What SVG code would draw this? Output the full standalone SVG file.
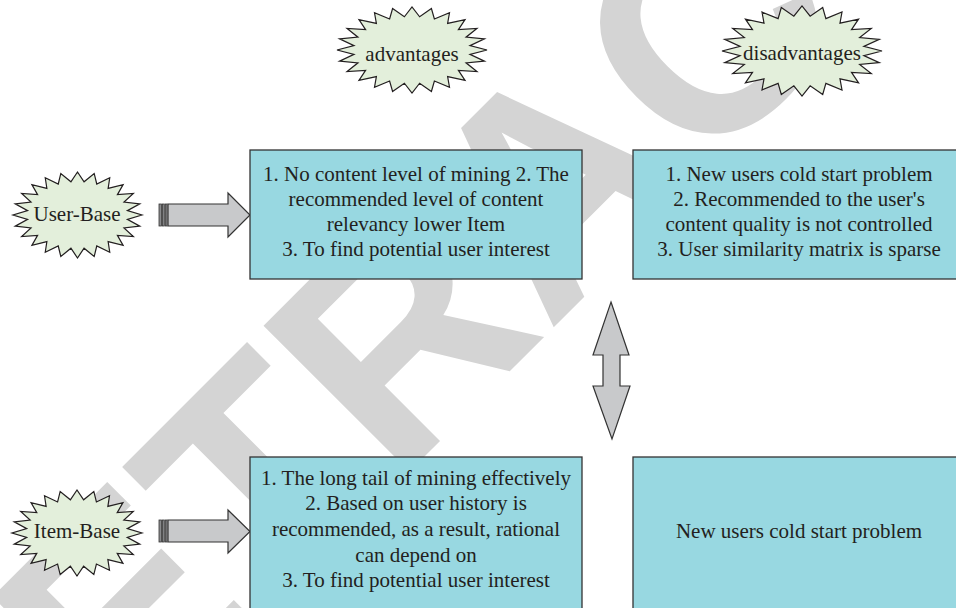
<svg xmlns="http://www.w3.org/2000/svg" xmlns:xlink="http://www.w3.org/1999/xlink" width="956" height="608" viewBox="0 0 956 608">
<style>
.star{fill:#e3efdb;stroke:#231f20;stroke-width:1.2;stroke-linejoin:miter}
.box{fill:#98d8e1;stroke:#333;stroke-width:1.3}
.lbl{font-family:"Liberation Serif","Times New Roman",serif;font-size:21px;fill:#231f20;text-anchor:middle}
.arr{fill:#c8c9cb;stroke:#333;stroke-width:1.2;stroke-linejoin:miter}
.stripe{fill:#8a8b8d;stroke:#333;stroke-width:0.8}
.wm{font-family:"Liberation Sans",Arial,sans-serif;font-weight:bold;font-size:300px;fill:#d4d4d4}
</style>
<defs>
<path id="starShape" vector-effect="non-scaling-stroke" d="M1,0 L.7733,.1018 L.9659,.2588 L.7206,.2985 L.866,.5 L.6188,.4748 L.7071,.7071 L.4748,.6188 L.5,.866 L.2985,.7206 L.2588,.9659 L.1018,.7733 L0,1 L-.1018,.7733 L-.2588,.9659 L-.2985,.7206 L-.5,.866 L-.4748,.6188 L-.7071,.7071 L-.6188,.4748 L-.866,.5 L-.7206,.2985 L-.9659,.2588 L-.7733,.1018 L-1,0 L-.7733,-.1018 L-.9659,-.2588 L-.7206,-.2985 L-.866,-.5 L-.6188,-.4748 L-.7071,-.7071 L-.4748,-.6188 L-.5,-.866 L-.2985,-.7206 L-.2588,-.9659 L-.1018,-.7733 L0,-1 L.1018,-.7733 L.2588,-.9659 L.2985,-.7206 L.5,-.866 L.4748,-.6188 L.7071,-.7071 L.6188,-.4748 L.866,-.5 L.7206,-.2985 L.9659,-.2588 L.7733,-.1018 Z"/>
</defs>
<rect width="956" height="608" fill="#ffffff"/>
<g id="watermark">
<text class="wm" transform="rotate(-45)" x="-664" y="623">RETRACTED</text>
</g>
<g id="connectors">
<g id="arrow-user">
<path class="arr" d="M168,204 L228,204 L228,193 L250,215 L228,237 L228,226 L168,226 Z"/>
<rect class="stripe" x="159" y="204" width="2.5" height="22"/>
<rect class="stripe" x="162.5" y="204" width="1.8" height="22"/>
<rect class="stripe" x="165.3" y="204" width="1.8" height="22"/>
</g>
<g id="arrow-item">
<path class="arr" d="M168,520 L228,520 L228,510 L250,531.5 L228,553 L228,542 L168,542 Z"/>
<rect class="stripe" x="159" y="520" width="2.5" height="22"/>
<rect class="stripe" x="162.5" y="520" width="1.8" height="22"/>
<rect class="stripe" x="165.3" y="520" width="1.8" height="22"/>
</g>
<path id="arrow-updown" class="arr" d="M611,302 L629,355 L620,355 L620,386 L630,386 L612,439 L593,386 L603,386 L603,355 L593,355 Z"/>
</g>
<g id="node-advantages">
<use xlink:href="#starShape" class="star" transform="translate(412,50) scale(75,43)"/>
<text class="lbl" x="412" y="61">advantages</text>
</g>
<g id="node-disadvantages">
<use xlink:href="#starShape" class="star" transform="translate(802,51) scale(80,45)"/>
<text class="lbl" x="802" y="60">disadvantages</text>
</g>
<g id="node-userbase">
<use xlink:href="#starShape" class="star" transform="translate(77.5,215) scale(64.5,43)"/>
<text class="lbl" x="77" y="221">User-Base</text>
</g>
<g id="node-itembase">
<use xlink:href="#starShape" class="star" transform="translate(77,533) scale(65,43)"/>
<text class="lbl" x="77" y="538">Item-Base</text>
</g>
<g id="node-user-adv">
<rect class="box" x="250" y="150" width="332" height="129"/>
<text class="lbl" x="416"><tspan x="416" y="181">1. No content level of mining 2. The</tspan><tspan x="416" y="206">recommended level of content</tspan><tspan x="416" y="231">relevancy lower Item</tspan><tspan x="416" y="256">3. To find potential user interest</tspan></text>
</g>
<g id="node-user-dis">
<rect class="box" x="633" y="150" width="332" height="129"/>
<text class="lbl"><tspan x="799" y="181">1. New users cold start problem</tspan><tspan x="799" y="206">2. Recommended to the user's</tspan><tspan x="799" y="231">content quality is not controlled</tspan><tspan x="799" y="256">3. User similarity matrix is sparse</tspan></text>
</g>
<g id="node-item-adv">
<rect class="box" x="250" y="457" width="332" height="160"/>
<text class="lbl"><tspan x="416" y="485">1. The long tail of mining effectively</tspan><tspan x="416" y="510">2. Based on user history is</tspan><tspan x="416" y="536">recommended, as a result, rational</tspan><tspan x="416" y="562">can depend on</tspan><tspan x="416" y="587">3. To find potential user interest</tspan></text>
</g>
<g id="node-item-dis">
<rect class="box" x="633" y="457" width="332" height="160"/>
<text class="lbl" x="799" y="538">New users cold start problem</text>
</g>
</svg>
